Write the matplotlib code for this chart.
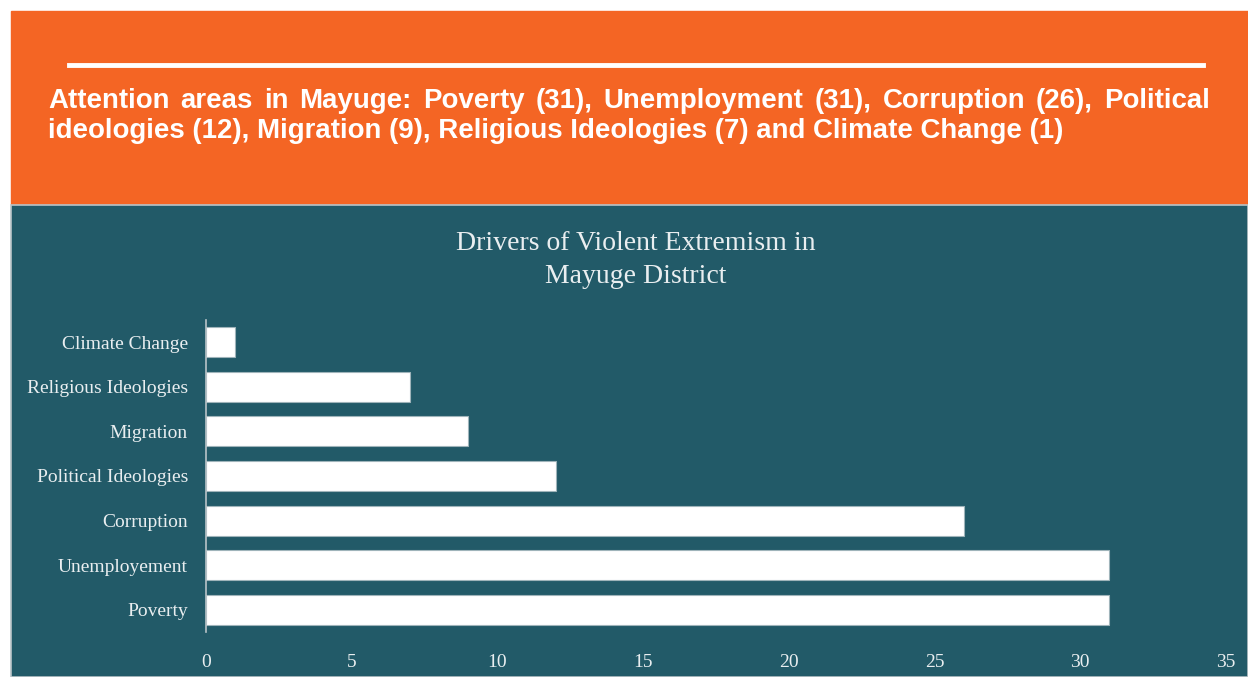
import matplotlib
matplotlib.use("Agg")
import matplotlib.pyplot as plt
from matplotlib.patches import Rectangle
from matplotlib.lines import Line2D

drivers = ["Poverty", "Unemployement", "Corruption", "Political Ideologies",
           "Migration", "Religious Ideologies", "Climate Change"]
counts = [31, 31, 26, 12, 9, 7, 1]
xticks = [0, 5, 10, 15, 20, 25, 30, 35]

headline_1 = ("Attention areas in Mayuge: Poverty (31), Unemployment (31), "
              "Corruption (26), Political")
headline_2 = ("ideologies (12), Migration (9), Religious Ideologies (7) "
              "and Climate Change (1)")
chart_title = "Drivers of Violent Extremism in\nMayuge District"

W, H = 1248, 677
orange = "#F46524"
teal = "#225A68"
pale = "#E9EEF0"

fig = plt.figure(figsize=(W / 100, H / 100), dpi=100, facecolor="white")

def fx(px):
    return px / W

def fy(py):
    return 1 - py / H

# background panels
fig.patches.append(Rectangle((fx(11), fy(204)), 1 - fx(11), fy(11) - fy(204),
                             transform=fig.transFigure, color=orange, zorder=-2))
fig.patches.append(Rectangle((fx(11), 0), 1 - fx(11), fy(205),
                             transform=fig.transFigure, facecolor=teal,
                             edgecolor="#B9C3C7", linewidth=1.2, zorder=-2))
fig.lines.append(Line2D([fx(69), fx(1203)], [fy(65), fy(65)],
                        transform=fig.transFigure, color="white", linewidth=3.5))

# justified headline (first line spread across the width)
renderer = fig.canvas.get_renderer()
hfont = dict(family="Liberation Sans", weight="bold", size=19.9, color="white")
words = headline_1.split(" ")
txts = [fig.text(0, fy(101), w, va="center", ha="left", **hfont) for w in words]
widths = [t.get_window_extent(renderer).width for t in txts]
left, right = 48, 1210
gap = (right - left - sum(widths)) / (len(words) - 1)
x = left
for t, w in zip(txts, widths):
    t.set_x(fx(x))
    x += w + gap
fig.text(fx(48), fy(131), headline_2, va="center", ha="left", **hfont)

# chart
ax = fig.add_axes([fx(206), fy(632), fx(1226) - fx(206), fy(320) - fy(632)])
ax.set_zorder(2)
ax.set_facecolor("none")
ax.barh(drivers, counts, height=0.67, color="white", edgecolor="#9FB4BA", linewidth=0.8)
ax.set_xlim(0, 35)
ax.set_ylim(-0.5, 6.5)
ax.set_xticks(xticks)
for s in ["top", "right", "bottom"]:
    ax.spines[s].set_visible(False)
ax.spines["left"].set_color("#B9C3C7")
ax.spines["left"].set_linewidth(1.2)
ax.tick_params(axis="both", length=0, colors=pale, labelsize=14)
ax.tick_params(axis="y", pad=13)
ax.tick_params(axis="x", pad=16)
for lab in ax.get_xticklabels() + ax.get_yticklabels():
    lab.set_family("Liberation Serif")

fig.text(fx(636), fy(260), chart_title, ha="center", va="center",
         family="Liberation Serif", size=20, color=pale, linespacing=1.45)

fig.savefig("out.png", dpi=100, facecolor="white")
